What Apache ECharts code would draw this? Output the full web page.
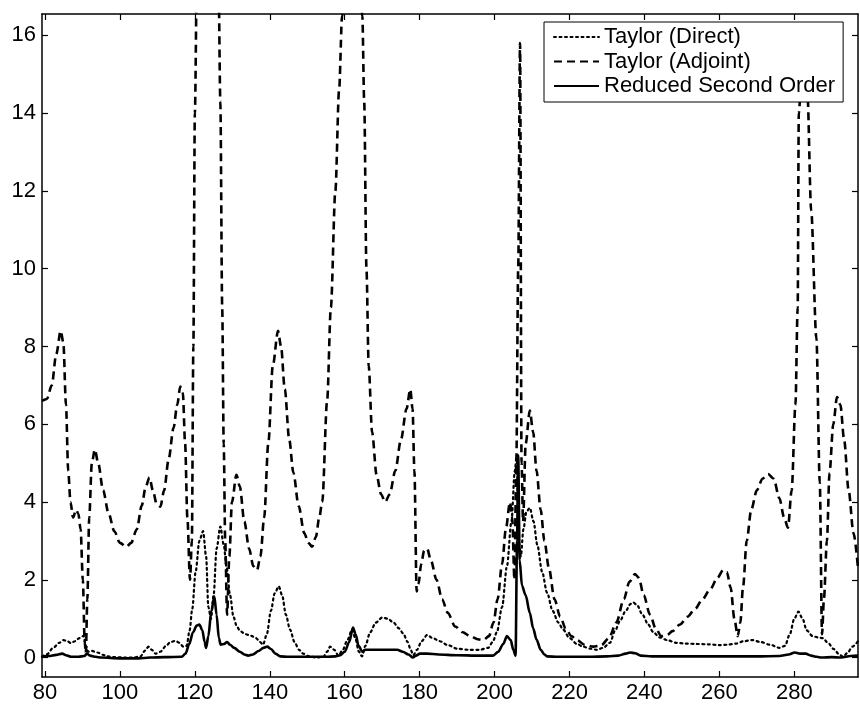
<!DOCTYPE html>
<html>
<head>
<meta charset="utf-8">
<title>Taylor vs reduced second order</title>
<script src="https://cdn.jsdelivr.net/npm/echarts@6/dist/echarts.min.js"></script>
<style>
  html, body { margin: 0; background: #fff; }
  #chart { width: 860px; height: 707px; }
</style>
</head>
<body>
<div id="chart"></div>
<script>
// tick labels
var xTicks = [80, 100, 120, 140, 160, 180, 200, 220, 240, 260, 280];
var yTicks = [0, 2, 4, 6, 8, 10, 12, 14, 16];

var names = ['Taylor (Direct)', 'Taylor (Adjoint)', 'Reduced Second Order'];

// Taylor (Direct) - dotted
var directX = [79.2, 80.5, 82.2, 83.8, 84.9, 86.0, 86.9, 88.0, 89.2, 90.3, 90.9, 91.5, 92.5, 94.0, 95.5, 96.6, 98.5, 101.0, 103.5, 105.5,
  106.7, 107.6, 108.5, 109.5, 110.8, 112.3, 113.5, 114.8, 115.9, 116.9, 117.8, 118.6, 119.3, 120.2, 121.2, 122.2, 123.0, 123.6, 124.3, 125.0,
  125.8, 126.8, 127.7, 128.5, 129.4, 130.3, 131.2, 132.1, 133.5, 135.0, 136.3, 137.4, 138.2, 139.2, 140.3, 141.3, 142.4, 143.3, 144.3, 145.4,
  146.6, 147.8, 148.9, 150.5, 152.5, 154.3, 155.3, 156.1, 157.2, 158.3, 159.5, 160.7, 162.0, 162.8, 163.8, 164.6, 165.5, 166.8, 168.3, 170.0,
  171.5, 173.0, 174.5, 175.6, 176.8, 177.6, 178.3, 179.3, 180.5, 182.0, 183.5, 185.4, 187.5, 190.0, 193.0, 196.0, 198.3, 199.5, 200.6, 202.0,
  203.3, 204.5, 205.4, 205.9, 206.4, 207.0, 207.7, 208.5, 209.4, 210.4, 211.4, 212.7, 214.0, 215.5, 217.0, 218.3, 220.0, 222.0, 223.6, 225.5,
  227.3, 229.0, 230.8, 232.2, 233.5, 235.0, 236.3, 237.0, 238.0, 239.5, 241.0, 242.3, 244.0, 246.0, 248.5, 251.0, 254.0, 257.0, 260.0, 262.0,
  264.5, 266.5, 268.8, 271.0, 273.5, 276.0, 277.5, 278.8, 280.0, 281.1, 282.2, 283.3, 284.9, 286.3, 287.6, 289.0, 290.5, 292.0, 293.0, 294.2,
  295.5, 297.0];
var directY = [0.02, 0.08, 0.25, 0.38, 0.45, 0.42, 0.37, 0.42, 0.5, 0.56, 0.3, 0.15, 0.17, 0.13, 0.07, 0.03, 0.01, 0.0, 0.0, 0.03,
  0.18, 0.28, 0.2, 0.1, 0.15, 0.3, 0.4, 0.43, 0.38, 0.28, 0.3, 0.7, 1.25, 2.2, 3.0, 3.25, 2.6, 1.3, 1.0, 1.6,
  2.8, 3.37, 2.9, 2.3, 1.6, 1.05, 0.8, 0.68, 0.6, 0.56, 0.5, 0.4, 0.33, 0.6, 1.2, 1.65, 1.83, 1.6, 1.1, 0.72,
  0.4, 0.2, 0.1, 0.03, 0.0, 0.02, 0.15, 0.28, 0.2, 0.05, 0.2, 0.45, 0.72, 0.5, 0.15, 0.03, 0.3, 0.65, 0.9, 1.03,
  1.0, 0.9, 0.75, 0.62, 0.4, 0.2, 0.06, 0.2, 0.42, 0.58, 0.5, 0.42, 0.32, 0.23, 0.2, 0.2, 0.25, 0.4, 0.65, 1.3,
  2.35, 3.5, 4.8, 5.2, 3.0, 2.6, 3.3, 3.75, 3.85, 3.5, 2.9, 2.2, 1.67, 1.2, 0.9, 0.72, 0.5, 0.35, 0.28, 0.23,
  0.2, 0.25, 0.38, 0.7, 0.95, 1.2, 1.38, 1.42, 1.35, 1.1, 0.85, 0.66, 0.52, 0.45, 0.38, 0.36, 0.35, 0.34, 0.32, 0.33,
  0.36, 0.42, 0.45, 0.4, 0.33, 0.25, 0.3, 0.6, 1.0, 1.18, 1.0, 0.7, 0.55, 0.52, 0.5, 0.38, 0.22, 0.08, 0.02, 0.12,
  0.28, 0.42];

// Taylor (Adjoint) - dashed (values above 16.5 run off the top of the plot)
var adjointX = [79.2, 80.5, 81.8, 83.0, 84.2, 84.9, 85.6, 86.2, 86.8, 87.5, 88.3, 88.9, 89.5, 90.1, 90.6, 90.9, 91.3, 91.8, 92.5, 93.3,
  94.2, 95.5, 97.0, 98.5, 100.0, 101.7, 103.0, 104.5, 105.8, 106.9, 107.9, 108.8, 109.8, 110.8, 111.8, 113.0, 114.3, 115.3, 116.1, 116.8,
  117.4, 118.0, 118.7, 119.2, 119.6, 120.0, 120.6, 121.5, 123.5, 125.5, 126.3, 126.8, 127.3, 127.7, 128.1, 128.6, 129.2, 129.9, 131.1, 132.0,
  133.2, 134.5, 135.6, 136.6, 137.5, 138.5, 139.6, 140.8, 142.2, 143.0, 144.0, 145.2, 146.3, 147.7, 149.2, 150.3, 151.3, 152.3, 153.2, 154.0,
  155.3, 156.3, 157.5, 158.5, 159.3, 160.5, 162.0, 163.5, 164.7, 165.2, 165.8, 166.4, 167.3, 168.5, 169.7, 170.8, 172.0, 173.5, 175.0, 176.5,
  177.5, 178.1, 178.6, 179.2, 179.7, 180.4, 181.2, 182.0, 183.0, 184.5, 186.0, 187.5, 189.5, 191.5, 193.5, 195.5, 197.0, 198.5, 199.7, 200.8,
  202.0, 203.0, 204.1, 204.7, 205.3, 205.8, 206.3, 206.8, 207.2, 207.6, 208.3, 209.4, 210.3, 211.2, 212.3, 213.3, 214.5, 216.0, 217.5, 219.0,
  220.5, 222.0, 224.0, 226.3, 228.5, 230.5, 232.5, 234.5, 236.0, 237.5, 238.5, 239.8, 241.5, 243.0, 244.5, 246.0, 247.5, 249.5, 251.5, 253.5,
  255.5, 257.5, 259.5, 261.0, 262.0, 263.0, 264.0, 264.9, 265.6, 266.3, 267.3, 268.5, 270.0, 271.5, 273.0, 274.5, 276.0, 277.3, 278.3, 279.3,
  280.3, 280.9, 281.2, 282.2, 283.5, 284.5, 285.9, 286.8, 287.4, 287.9, 288.7, 289.4, 290.4, 291.4, 292.3, 293.3, 294.5, 295.8, 297.0];
var adjointY = [6.6, 6.65, 7.0, 7.8, 8.4, 8.1, 6.5, 4.8, 4.0, 3.6, 3.8, 3.7, 3.3, 2.0, 0.4, 0.1, 1.5, 3.6, 5.0, 5.35,
  5.0, 4.3, 3.7, 3.25, 2.95, 2.85, 2.95, 3.3, 3.9, 4.4, 4.63, 4.3, 3.95, 3.88, 4.3, 5.1, 5.9, 6.5, 6.97, 6.8,
  5.5, 3.6, 2.0, 3.0, 8.0, 14.0, 18.0, 28, 40, 28, 17.5, 14.3, 9.0, 5.5, 3.0, 1.1, 2.6, 4.0, 4.7, 4.4,
  3.5, 2.8, 2.35, 2.25, 2.6, 3.6, 5.5, 7.5, 8.4, 8.0, 6.9, 5.6, 4.75, 3.9, 3.2, 2.95, 2.85, 3.1, 3.6, 4.0,
  6.6, 9.0, 12.0, 14.6, 16.5, 20, 26, 20, 16.5, 14.3, 10.0, 7.5, 5.8, 4.7, 4.2, 4.0, 4.2, 4.8, 5.6, 6.4,
  6.9, 6.4, 4.8, 1.7, 1.9, 2.4, 2.75, 2.8, 2.5, 2.0, 1.5, 1.15, 0.8, 0.65, 0.55, 0.47, 0.45, 0.55, 0.9, 1.5,
  2.4, 3.3, 4.0, 3.6, 2.0, 5.0, 10, 15.8, 5.0, 3.5, 5.5, 6.35, 5.8, 4.8, 3.8, 3.0, 2.3, 1.5, 1.05, 0.75,
  0.55, 0.45, 0.33, 0.28, 0.32, 0.5, 0.9, 1.5, 1.95, 2.15, 2.05, 1.6, 1.1, 0.75, 0.55, 0.58, 0.68, 0.85, 1.05, 1.25,
  1.5, 1.75, 2.05, 2.25, 2.2, 1.8, 1.0, 0.55, 0.9, 1.8, 3.0, 3.8, 4.3, 4.6, 4.72, 4.6, 4.1, 3.6, 3.34, 4.3,
  6.5, 9.0, 14.0, 15.6, 14.5, 11.5, 8.2, 4.5, 0.6, 1.5, 3.0, 4.75, 6.0, 6.7, 6.5, 5.6, 4.3, 3.2, 2.3];

// Reduced Second Order - solid
var reducedX = [79.2, 81.0, 83.0, 84.6, 85.6, 87.0, 89.0, 90.5, 91.2, 92.0, 93.5, 95.0, 100.0, 105.0, 108.0, 112.0, 116.5, 117.5, 118.5, 119.5,
  120.5, 121.2, 122.0, 122.6, 123.0, 123.6, 124.4, 125.2, 125.8, 126.4, 126.9, 127.8, 128.6, 129.4, 130.5, 132.0, 133.2, 134.2, 135.5, 137.0,
  138.3, 139.3, 140.3, 141.5, 142.8, 145, 150, 155, 157.5, 158.8, 160.0, 161.2, 162.2, 162.9, 163.7, 164.7, 165.5, 168, 171, 174,
  175.5, 177.0, 178.2, 179.0, 180.1, 182, 185, 190, 195, 199.6, 201.0, 202.3, 203.3, 204.3, 205.0, 205.6, 206.0, 206.3, 206.7, 207.3,
  208.3, 209.4, 210.3, 211.2, 212.3, 213.3, 214.0, 217, 225, 230, 233, 235, 236.2, 237.5, 239.0, 242, 250, 260, 270, 276,
  278.5, 280.1, 281.5, 283.0, 284.5, 286.0, 287.3, 290.0, 292.5, 295.0, 297.0];
var reducedY = [0.03, 0.04, 0.07, 0.1, 0.06, 0.02, 0.02, 0.04, 0.1, 0.05, 0.02, 0.0, -0.02, -0.02, 0.0, 0.01, 0.02, 0.1, 0.35, 0.65,
  0.82, 0.85, 0.7, 0.4, 0.25, 0.55, 1.2, 1.57, 1.1, 0.5, 0.33, 0.35, 0.4, 0.33, 0.25, 0.15, 0.08, 0.05, 0.08, 0.17,
  0.25, 0.28, 0.22, 0.1, 0.03, 0.02, 0.02, 0.02, 0.03, 0.06, 0.15, 0.4, 0.77, 0.6, 0.3, 0.15, 0.2, 0.2, 0.2, 0.2,
  0.15, 0.08, 0.0, 0.05, 0.1, 0.1, 0.08, 0.06, 0.05, 0.05, 0.15, 0.35, 0.55, 0.45, 0.2, 0.05, 3.0, 5.2, 2.5, 1.85,
  1.6, 1.15, 0.75, 0.46, 0.2, 0.08, 0.03, 0.02, 0.02, 0.03, 0.05, 0.1, 0.13, 0.11, 0.05, 0.03, 0.03, 0.03, 0.03, 0.04,
  0.08, 0.13, 0.1, 0.1, 0.05, 0.02, 0.0, 0.01, 0.0, 0.04, 0.05];

function pairs(xs, ys) {
  var out = [];
  for (var i = 0; i < xs.length; i++) out.push([xs[i], ys[i]]);
  return out;
}

var font = 'Liberation Sans, Arial, Helvetica, sans-serif';
var black = '#000';

function xAxisOf(pos, labels) {
  return {
    type: 'value', position: pos, min: 79.2, max: 297,
    axisLine: { show: true, onZero: false, lineStyle: { color: black, width: 1.5 } },
    axisTick: { show: true, inside: true, length: 6, customValues: xTicks, lineStyle: { color: black, width: 1.2 } },
    axisLabel: { show: labels, customValues: xTicks, margin: 5, color: black, fontSize: 22, fontFamily: font },
    splitLine: { show: false }
  };
}
function yAxisOf(pos, labels) {
  return {
    type: 'value', position: pos, min: -0.5, max: 16.55,
    axisLine: { show: true, onZero: false, lineStyle: { color: black, width: 1.5 } },
    axisTick: { show: true, inside: true, length: 6, customValues: yTicks, lineStyle: { color: black, width: 1.2 } },
    axisLabel: { show: labels, customValues: yTicks, margin: 6, color: black, fontSize: 22, fontFamily: font },
    splitLine: { show: false }
  };
}

function lineSeries(name, xs, ys, style) {
  return {
    name: name, type: 'line', data: pairs(xs, ys),
    xAxisIndex: 0, yAxisIndex: 0,
    symbol: 'none', smooth: 0.3, smoothMonotone: 'x',
    lineStyle: style,
    itemStyle: { color: black }
  };
}

var chart = echarts.init(document.getElementById('chart'));
chart.setOption({
  backgroundColor: '#fff',
  animation: false,
  grid: { left: 42, right: 2, top: 14, bottom: 30 },
  xAxis: [xAxisOf('bottom', true), xAxisOf('top', false)],
  yAxis: [yAxisOf('left', true), yAxisOf('right', false)],
  legend: {
    data: names,
    orient: 'vertical',
    left: 544, top: 22,
    padding: [4, 8, 5, 9],
    itemGap: 2.5,
    itemWidth: 45, itemHeight: 18,
    backgroundColor: '#fff',
    borderColor: black, borderWidth: 1,
    // hide the marker dot, keep only the line sample
    itemStyle: { opacity: 0, borderWidth: 0 },
    textStyle: { color: black, fontSize: 22, lineHeight: 22, fontFamily: font }
  },
  series: [
    lineSeries(names[0], directX, directY, { color: black, width: 2.2, type: [2, 3.5], cap: 'round' }),
    lineSeries(names[1], adjointX, adjointY, { color: black, width: 2.6, type: [8, 5] }),
    lineSeries(names[2], reducedX, reducedY, { color: black, width: 2.6 })
  ]
});
</script>
</body>
</html>
